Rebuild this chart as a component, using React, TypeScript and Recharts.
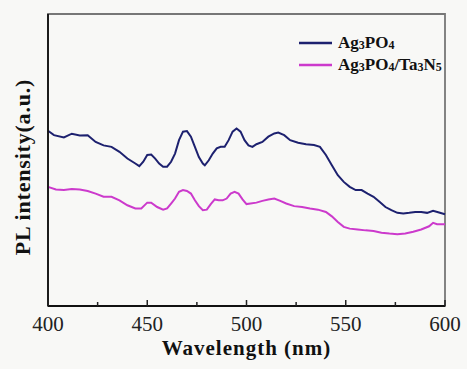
import { LineChart, Line, XAxis, YAxis, ReferenceArea, Legend } from "recharts";

// Ag3PO4 (blue) — wavelength (nm) and PL intensity (a.u.)
const ag3po4Wl = [400, 403, 408, 412, 416, 420, 424, 428, 432, 436, 440, 444, 446, 448, 450, 452, 454, 456, 458, 460, 462, 464, 466, 468, 470, 472, 474, 476, 478, 479, 481, 483, 485, 487, 489, 491, 493, 495, 497, 499, 501, 503, 505, 508, 511, 514, 516, 519, 522, 526, 530, 534, 537, 540, 543, 546, 549, 552, 555, 558, 561, 564, 567, 570, 573, 576, 579, 582, 585, 588, 591, 594, 597, 600];
const ag3po4Pl = [60, 58.5, 57.7, 59, 58.4, 58.5, 56.2, 55, 54.5, 52.8, 50.5, 48.8, 47.9, 49.4, 51.7, 51.9, 50.5, 48.8, 47.7, 47.7, 49.4, 52.2, 56.8, 59.7, 59.9, 58, 54.5, 51, 48.8, 48.2, 49.9, 52.2, 54, 54.5, 54.5, 56.8, 59.7, 60.8, 59.7, 56.8, 55, 54.5, 55.4, 56.2, 58, 59.1, 59.4, 58.5, 56.8, 55.9, 55.4, 55.1, 54.5, 51.7, 48.2, 44.8, 42.5, 40.8, 39.7, 39.7, 38.5, 37.4, 35.7, 33.9, 32.8, 31.9, 31.7, 31.9, 32.2, 32.2, 31.9, 32.6, 32, 31.4];

// Ag3PO4/Ta3N5 (magenta)
const compositeWl = [400, 404, 408, 412, 416, 420, 424, 428, 432, 436, 440, 444, 447, 450, 452, 455, 458, 460, 462, 464, 466, 468, 470, 472, 474, 476, 478, 480, 482, 484, 486, 488, 490, 492, 494, 496, 498, 500, 502, 505, 508, 511, 514, 517, 520, 524, 528, 532, 536, 540, 543, 546, 549, 552, 556, 560, 564, 568, 572, 576, 580, 584, 588, 592, 594, 596, 600];
const compositePl = [40.8, 39.9, 39.7, 40.1, 39.9, 39.4, 38.5, 37.4, 37.4, 36.2, 34.5, 33.4, 33.4, 35.4, 35.4, 33.9, 33, 33.4, 35.1, 36.8, 39.1, 39.7, 39.4, 38.5, 36.2, 34.2, 32.8, 33, 34.9, 36.5, 36.2, 36.2, 36.8, 38.5, 39.1, 38.5, 36.5, 34.9, 35.1, 35.4, 36, 36.5, 36.8, 36, 35.1, 34.2, 33.9, 33.4, 33, 32.2, 30.7, 28.8, 27.1, 26.5, 26.2, 25.9, 25.7, 25.1, 24.8, 24.6, 24.8, 25.4, 26.2, 27.3, 28.5, 28, 28];

const xTicks = [400, 425, 450, 475, 500, 525, 550, 575, 600];

const seriesNames = ["Ag3PO4", "Ag3PO4/Ta3N5"];
const seriesColors = ["#1d216f", "#cc3acc"];

const ag3po4Data = ag3po4Wl.map((wl, i) => ({ wl, pl: ag3po4Pl[i] }));
const compositeData = compositeWl.map((wl, i) => ({ wl, pl: compositePl[i] }));

const serif = "Liberation Serif, Times New Roman, serif";

function WlTick({ x, y, payload }: any) {
    const major = payload.value % 50 === 0;
    return (
        <g>
            <line x1={x} x2={x} y1={y} y2={y - (major ? 6 : 4)} stroke="#222" strokeWidth={1.5} />
            {major && (
                <text x={x} y={y + 25} textAnchor="middle" fontFamily={serif} fontSize={21} fill="#222">
                    {payload.value}
                </text>
            )}
        </g>
    );
}

// chemical formula with digits as subscripts
function Formula({ text }: { text: string }) {
    return (
        <span>
            {text.split(/(\d)/).map((part, i) =>
                /\d/.test(part) ? (
                    <span key={i} style={{ fontSize: 12, position: "relative", top: 1 }}>{part}</span>
                ) : (
                    <span key={i}>{part}</span>
                )
            )}
        </span>
    );
}

function renderLegend() {
    return (
        <div style={{ fontFamily: serif, fontWeight: "bold", fontSize: 17, color: "#111", lineHeight: "22px" }}>
            {seriesNames.map((name, i) => (
                <div key={name} style={{ display: "flex", alignItems: "center", height: 22 }}>
                    <svg width={37} height={4} style={{ marginRight: 2 }}>
                        <line x1={0} x2={33} y1={2} y2={2} stroke={seriesColors[i]} strokeWidth={2.5} />
                    </svg>
                    <Formula text={name} />
                </div>
            ))}
        </div>
    );
}

export default function App() {
    return (
        <div style={{ position: "absolute", left: 0, top: 0, width: 467, height: 369, background: "#f8f8f6" }}>
            <LineChart width={467} height={369} margin={{ top: 14, right: 22, bottom: 13, left: 0 }}>
                <XAxis
                    dataKey="wl"
                    type="number"
                    domain={[400, 600]}
                    ticks={xTicks}
                    interval={0}
                    height={50}
                    tickSize={0}
                    tickMargin={0}
                    tick={<WlTick />}
                    tickLine={false}
                    axisLine={{ stroke: "#111", strokeWidth: 1.8 }}
                    label={({ viewBox }: any) => (
                        <text
                            x={viewBox.x + viewBox.width / 2}
                            y={viewBox.y + 49}
                            textAnchor="middle"
                            fontFamily={serif}
                            fontWeight="bold"
                            fontSize={21}
                            letterSpacing={1}
                            fill="#111"
                        >
                            Wavelength (nm)
                        </text>
                    )}
                />
                <YAxis
                    type="number"
                    domain={[0, 100]}
                    width={48}
                    tick={false}
                    tickLine={false}
                    axisLine={{ stroke: "#111", strokeWidth: 1.8 }}
                    label={({ viewBox }: any) => {
                        const cx = viewBox.x + 22;
                        const cy = viewBox.y + viewBox.height / 2 + 7;
                        return (
                            <text
                                x={cx}
                                y={cy}
                                transform={`rotate(-90, ${cx}, ${cy})`}
                                textAnchor="middle"
                                dominantBaseline="central"
                                fontFamily={serif}
                                fontWeight="bold"
                                fontSize={22}
                                letterSpacing={0.8}
                                fill="#111"
                            >
                                PL intensity(a.u.)
                            </text>
                        );
                    }}
                />
                <ReferenceArea x1={400} x2={600} y1={0} y2={100} fill="none" stroke="#777" strokeWidth={1.8} />
                <Legend
                    layout="vertical"
                    align="center"
                    verticalAlign="middle"
                    content={renderLegend}
                    wrapperStyle={{ position: "absolute", left: 299, top: 32, width: 160 }}
                />
                <Line
                    data={ag3po4Data}
                    dataKey="pl"
                    name={seriesNames[0]}
                    stroke={seriesColors[0]}
                    strokeWidth={2}
                    dot={false}
                    type="linear"
                    isAnimationActive={false}
                />
                <Line
                    data={compositeData}
                    dataKey="pl"
                    name={seriesNames[1]}
                    stroke={seriesColors[1]}
                    strokeWidth={2}
                    dot={false}
                    type="linear"
                    isAnimationActive={false}
                />
            </LineChart>
        </div>
    );
}
